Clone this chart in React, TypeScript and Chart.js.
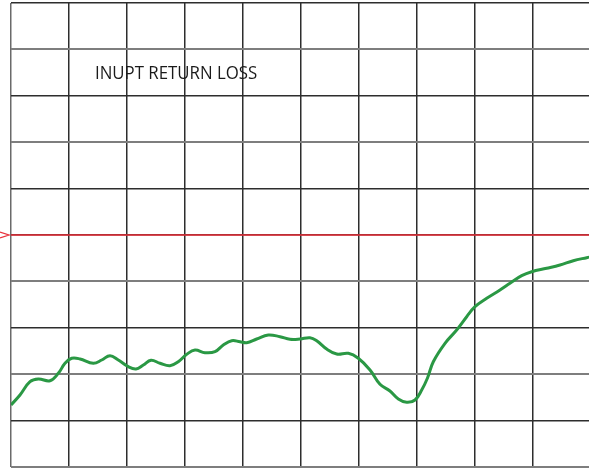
import React, { useEffect, useRef } from "react";
import { Chart, registerables } from "chart.js";

Chart.register(...registerables);

// frequency axis position (grid divisions) of each trace sample
const traceX = [
  0, 0.155, 0.328, 0.471, 0.672, 0.816, 0.931, 1.047, 1.19, 1.419, 1.564, 1.707, 1.85, 2.022, 2.155,
  2.281, 2.414, 2.569, 2.741, 2.884, 3.029, 3.172, 3.345, 3.517, 3.66, 3.805, 3.948, 4.064, 4.236,
  4.436, 4.638, 4.81, 4.983, 5.155, 5.271, 5.443, 5.616, 5.816, 5.988, 6.19, 6.362, 6.534, 6.678,
  6.822, 6.966, 7.081, 7.181, 7.281, 7.483, 7.684, 7.857, 8.0, 8.202, 8.431, 8.603, 8.805, 8.978,
  9.236, 9.466, 9.695, 9.926, 10.0,
];
// return loss trace (grid divisions)
const traceY = [
  1.336, 1.552, 1.838, 1.897, 1.86, 2.019, 2.235, 2.343, 2.328, 2.235, 2.306, 2.399, 2.306, 2.162, 2.112,
  2.198, 2.3, 2.235, 2.183, 2.269, 2.429, 2.522, 2.463, 2.485, 2.629, 2.722, 2.7, 2.679, 2.759,
  2.845, 2.808, 2.754, 2.759, 2.787, 2.722, 2.543, 2.435, 2.45, 2.343, 2.091, 1.782, 1.638, 1.466,
  1.394, 1.444, 1.659, 1.918, 2.269, 2.666, 2.953, 3.239, 3.455, 3.636, 3.815, 3.959, 4.123, 4.209,
  4.282, 4.353, 4.446, 4.511, 4.53,
];
// reference level line
const refX = [0, 10];
const refY = [5, 5];
const chartTitle = "INUPT RETURN LOSS";
// grid divisions that are drawn in lighter grey
const lightRows = [0, 2, 4, 7, 9];

const chevronPlugin = {
  id: "refChevron",
  afterDatasetsDraw(chart: any) {
    const ctx = chart.ctx;
    const y = chart.scales.y.getPixelForValue(refY[0]);
    const left = chart.chartArea.left;
    ctx.save();
    ctx.strokeStyle = "#e8323c";
    ctx.lineWidth = 1.3;
    ctx.beginPath();
    ctx.moveTo(left - 11, y - 3);
    ctx.lineTo(left - 2, y);
    ctx.lineTo(left - 11, y + 3);
    ctx.stroke();
    ctx.restore();
  },
};

export default function App() {
  const ref = useRef<HTMLCanvasElement | null>(null);

  useEffect(() => {
    if (!ref.current) return;
    const chart = new Chart(ref.current, {
      type: "line",
      data: {
        datasets: [
          {
            label: "Return loss",
            data: traceX.map((x, i) => ({ x, y: traceY[i] })),
            borderColor: "#2a9844",
            borderWidth: 3,
            pointRadius: 0,
            tension: 0.4,
            fill: false,
            order: 1,
          },
          {
            label: "Reference",
            data: refX.map((x, i) => ({ x, y: refY[i] })),
            borderColor: "#ec2f3a",
            borderWidth: 1.6,
            pointRadius: 0,
            tension: 0,
            fill: false,
            order: 2,
          },
        ],
      },
      options: {
        animation: false,
        responsive: false,
        maintainAspectRatio: false,
        layout: { padding: { left: 11, right: 9, top: 3, bottom: 3 } },
        plugins: { legend: { display: false }, tooltip: { enabled: false } },
        scales: {
          x: {
            type: "linear",
            min: 0,
            max: 10,
            ticks: { display: false, stepSize: 1 },
            border: { display: false },
            grid: {
              drawTicks: false,
              color: (c: any) => (c.tick && c.tick.value === 0 ? "#6a6a6a" : "#2d2d2d"),
              lineWidth: 1.5,
            },
          },
          y: {
            type: "linear",
            min: 0,
            max: 10,
            ticks: { display: false, stepSize: 1 },
            border: { display: false },
            grid: {
              drawTicks: false,
              color: (c: any) =>
                c.tick && lightRows.includes(c.tick.value) ? "#7e7e7e" : "#2d2d2d",
              lineWidth: (c: any) => (c.tick && lightRows.includes(c.tick.value) ? 2 : 1.4),
            },
          },
        },
      },
      plugins: [chevronPlugin],
    });
    return () => chart.destroy();
  }, []);

  return (
    <div
      style={{
        position: "fixed",
        left: 0,
        top: 0,
        width: 589,
        height: 470,
        overflow: "hidden",
        background: "#fff",
      }}
    >
      <canvas ref={ref} width={600} height={470} style={{ display: "block" }} />
      <div
        style={{
          position: "absolute",
          left: 95,
          top: 63,
          fontFamily: "'Open Sans', sans-serif",
          fontSize: 19,
          lineHeight: "19px",
          color: "#1a1a1a",
          whiteSpace: "nowrap",
          transform: "scaleX(0.885)",
          transformOrigin: "left top",
        }}
      >
        {chartTitle}
      </div>
    </div>
  );
}
